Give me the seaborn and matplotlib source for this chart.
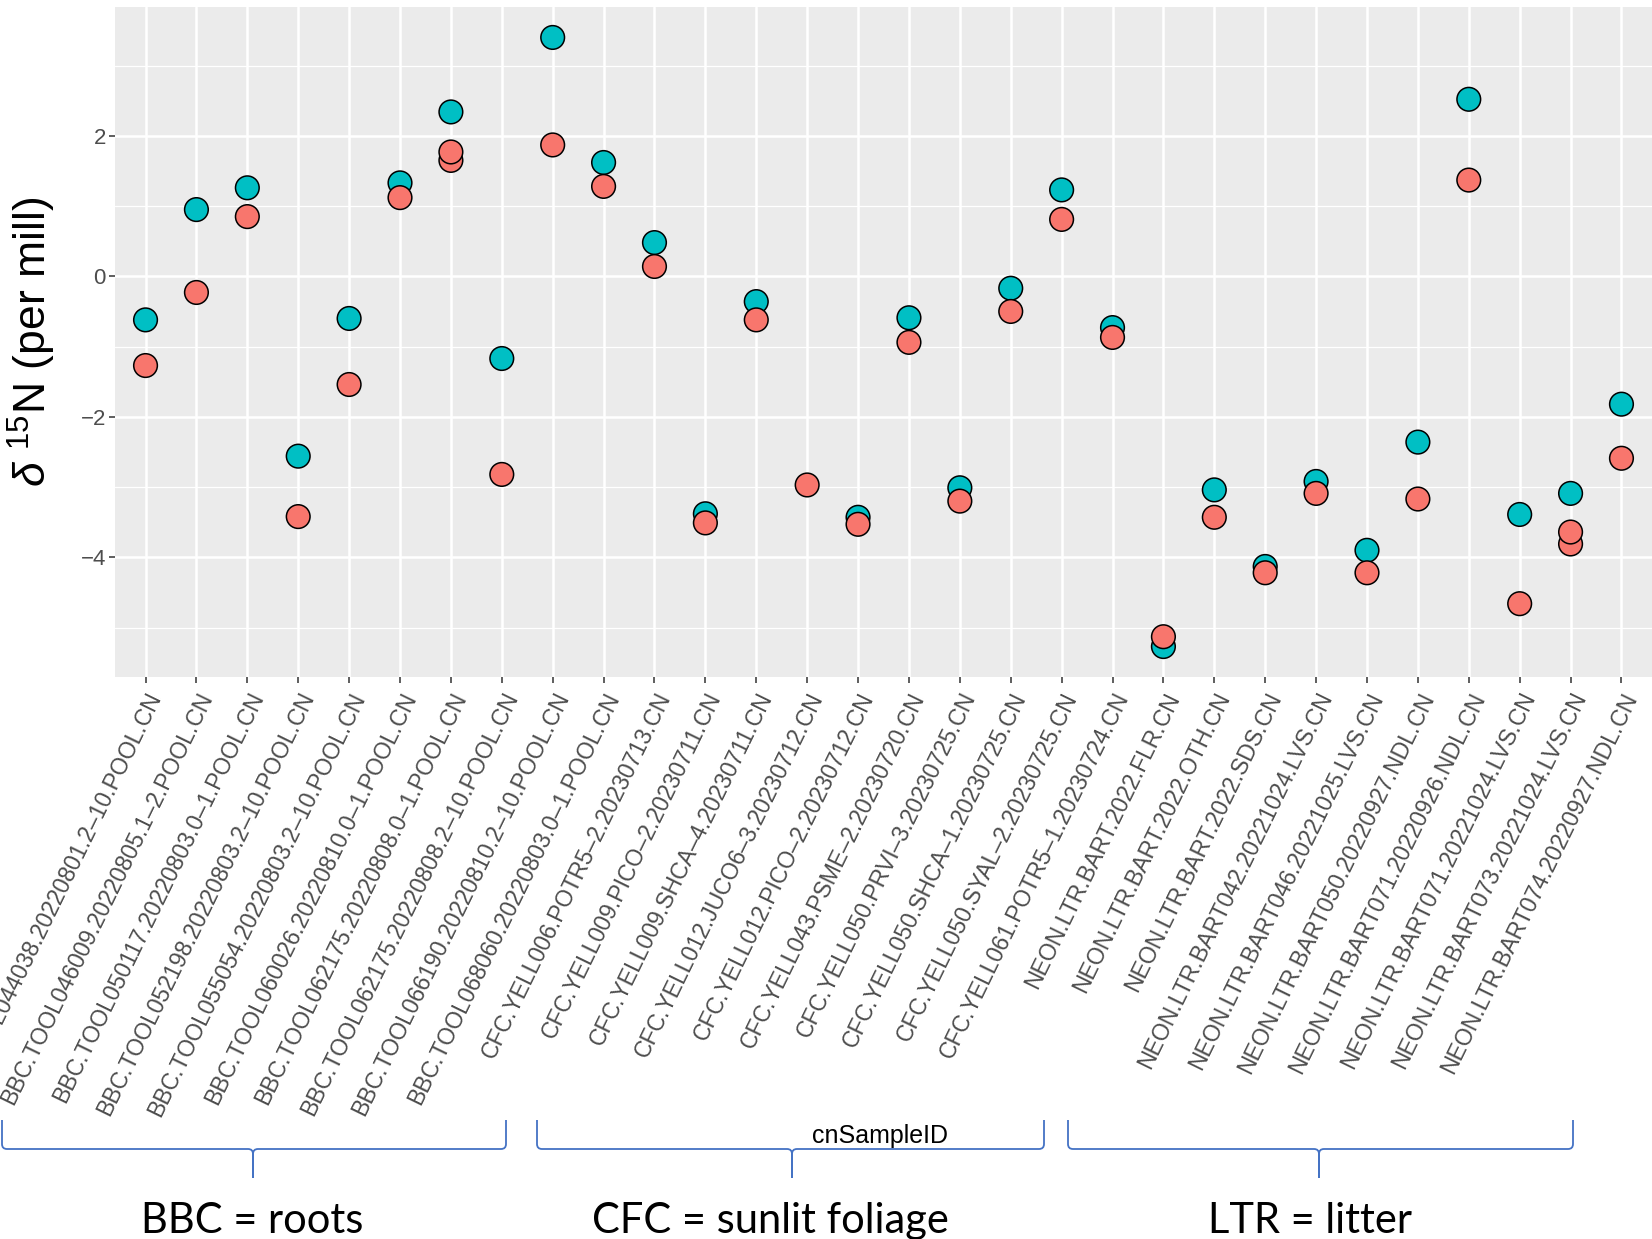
"""
d15N per sample, two runs, with group braces underneath.
"""

import numpy as np
import pandas as pd
import matplotlib
matplotlib.use("Agg")
import matplotlib.pyplot as plt
from matplotlib.path import Path
from matplotlib.patches import PathPatch
from matplotlib.ticker import FixedLocator
import seaborn as sns

# sample IDs (the first one is cut off at the left edge of the figure)
sample_ids = [
    "BBC.TOOL044038.20220801.2–10.POOL.CN",
    "BBC.TOOL046009.20220805.1–2.POOL.CN",
    "BBC.TOOL050117.20220803.0–1.POOL.CN",
    "BBC.TOOL052198.20220803.2–10.POOL.CN",
    "BBC.TOOL055054.20220803.2–10.POOL.CN",
    "BBC.TOOL060026.20220810.0–1.POOL.CN",
    "BBC.TOOL062175.20220808.0–1.POOL.CN",
    "BBC.TOOL062175.20220808.2–10.POOL.CN",
    "BBC.TOOL066190.20220810.2–10.POOL.CN",
    "BBC.TOOL068060.20220803.0–1.POOL.CN",
    "CFC.YELL006.POTR5–2.20230713.CN",
    "CFC.YELL009.PICO–2.20230711.CN",
    "CFC.YELL009.SHCA–4.20230711.CN",
    "CFC.YELL012.JUCO6–3.20230712.CN",
    "CFC.YELL012.PICO–2.20230712.CN",
    "CFC.YELL043.PSME–2.20230720.CN",
    "CFC.YELL050.PRVI–3.20230725.CN",
    "CFC.YELL050.SHCA–1.20230725.CN",
    "CFC.YELL050.SYAL–2.20230725.CN",
    "CFC.YELL061.POTR5–1.20230724.CN",
    "NEON.LTR.BART.2022.FLR.CN",
    "NEON.LTR.BART.2022.OTH.CN",
    "NEON.LTR.BART.2022.SDS.CN",
    "NEON.LTR.BART042.20221024.LVS.CN",
    "NEON.LTR.BART046.20221025.LVS.CN",
    "NEON.LTR.BART050.20220927.NDL.CN",
    "NEON.LTR.BART071.20220926.NDL.CN",
    "NEON.LTR.BART071.20221024.LVS.CN",
    "NEON.LTR.BART073.20221024.LVS.CN",
    "NEON.LTR.BART074.20220927.NDL.CN",
]

# d15N, teal run
d15n_teal = [-0.62, 0.95, 1.26, -2.56, -0.60, 1.33, 2.34, -1.17, 3.40, 1.62,
             0.48, -3.38, -0.36, np.nan, -3.43, -0.59, -3.01, -0.17, 1.23, -0.73,
             -5.27, -3.04, -4.13, -2.92, -3.90, -2.36, 2.52, -3.39, -3.09, -1.82]

# d15N, salmon run
d15n_salmon = [-1.27, -0.23, 0.85, -3.42, -1.54, 1.12, 1.77, -2.82, 1.87, 1.28,
               0.14, -3.51, -0.62, -2.97, -3.53, -0.94, -3.20, -0.50, 0.81, -0.87,
               -5.13, -3.43, -4.22, -3.09, -4.22, -3.17, 1.37, -4.66, -3.64, -2.59]

# duplicate salmon measurements (drawn underneath)
dup_ids = ["BBC.TOOL062175.20220808.0–1.POOL.CN", "NEON.LTR.BART073.20221024.LVS.CN"]
dup_salmon = [1.65, -3.81]

group_labels = ["BBC = roots", "CFC = sunlit foliage", "LTR = litter"]

df = pd.concat([
    pd.DataFrame({"cnSampleID": sample_ids, "d15N": d15n_teal, "run": "teal"}),
    pd.DataFrame({"cnSampleID": dup_ids, "d15N": dup_salmon, "run": "salmon"}),
    pd.DataFrame({"cnSampleID": sample_ids, "d15N": d15n_salmon, "run": "salmon"}),
], ignore_index=True)
df["cnSampleID"] = pd.Categorical(df["cnSampleID"], categories=sample_ids)

sns.set_theme(style="darkgrid", rc={"axes.facecolor": "#EBEBEB", "grid.color": "white"})
plt.rcParams["font.family"] = ["Liberation Sans", "DejaVu Sans"]
plt.rcParams["mathtext.fontset"] = "custom"
plt.rcParams["mathtext.rm"] = "Liberation Sans"
plt.rcParams["mathtext.it"] = "Liberation Sans:italic"

W, H = 1652, 1239
fig = plt.figure(figsize=(W / 100, H / 100), dpi=100)
ax = fig.add_axes([115 / W, 1 - 677 / H, (W - 115) / W, (677 - 7) / H])

sns.scatterplot(data=df, x="cnSampleID", y="d15N", hue="run",
                palette={"teal": "#00BFC4", "salmon": "#F8766D"},
                s=290, edgecolor="black", linewidth=1.1, legend=False,
                ax=ax, zorder=3)

vals = df["d15N"].dropna()
pad = 0.05 * (vals.max() - vals.min())
ax.set_ylim(vals.min() - pad, vals.max() + pad)
ax.set_xlim(-0.6, len(sample_ids) - 0.4)

ax.yaxis.set_major_locator(FixedLocator([-4, -2, 0, 2]))
ax.yaxis.set_minor_locator(FixedLocator([-5, -3, -1, 1, 3]))
ax.grid(True, which="major", color="white", lw=1.8)
ax.grid(True, which="minor", axis="y", color="white", lw=0.9)
for s in ax.spines.values():
    s.set_visible(False)

ax.tick_params(which="major", length=4.5, width=1.1, color="#333333",
               bottom=True, left=True, labelcolor="#4D4D4D")
ax.tick_params(which="minor", length=0)
ax.tick_params(axis="y", labelsize=16, pad=2)
ax.tick_params(axis="x", labelsize=16.6, pad=4)
for lab in ax.get_xticklabels():
    lab.set_rotation(64)
    lab.set_ha("right")
    lab.set_va("top")
    lab.set_rotation_mode("anchor")

ax.set_ylabel(r"$\delta$ $^{15}$N (per mill)", fontsize=32, color="black")
ax.yaxis.set_label_coords(-0.037, 0.5)
ax.set_xlabel("cnSampleID", fontsize=18, color="black")
ax.xaxis.set_label_coords(0.498, -0.667)

# overlay in pixel coordinates for the braces and group names
ov = fig.add_axes([0, 0, 1, 1], facecolor="none")
ov.set_xlim(0, W)
ov.set_ylim(H, 0)
ov.axis("off")


def brace(x0, x1, xc, y_end=1120, y_bar=1149, y_tip=1178, r=5):
    for xe, sgn in [(x0, 1), (x1, -1)]:
        verts = [(xe, y_end), (xe, y_bar - r), (xe, y_bar), (xe + sgn * r, y_bar),
                 (xc - sgn * r, y_bar), (xc, y_bar), (xc, y_bar + r), (xc, y_tip)]
        codes = [Path.MOVETO, Path.LINETO, Path.CURVE3, Path.CURVE3,
                 Path.LINETO, Path.CURVE3, Path.CURVE3, Path.LINETO]
        ov.add_patch(PathPatch(Path(verts, codes), fill=False,
                               edgecolor="#4472C4", lw=1.3))


brace(2, 506, 253)
brace(537, 1044, 792)
brace(1068, 1573, 1319)

for label, xc in zip(group_labels, [252, 770, 1310]):
    ov.text(xc, 1233, label, ha="center", va="baseline", fontsize=30,
            family=["Lato", "DejaVu Sans"], color="black")

fig.savefig("out.png", dpi=100)
